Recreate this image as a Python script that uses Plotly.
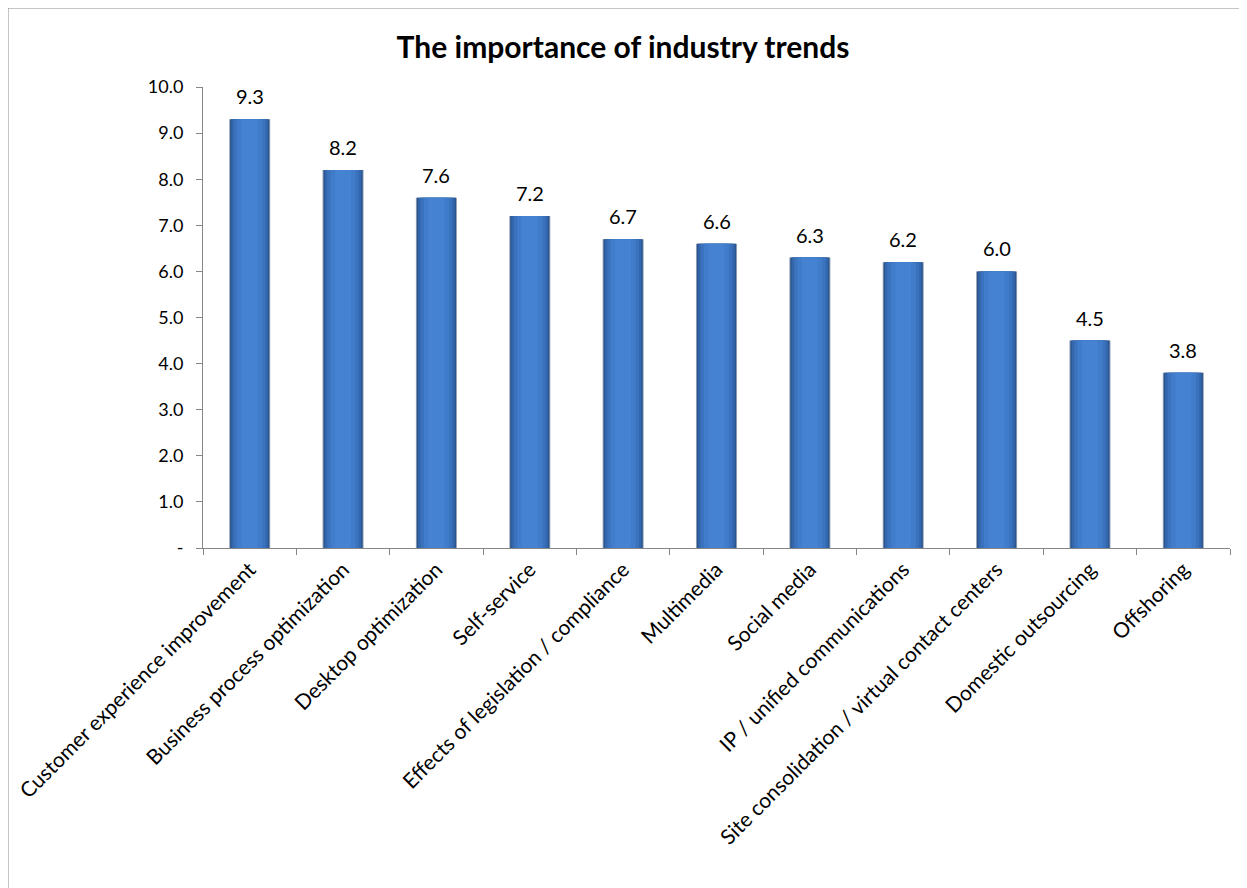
import plotly.graph_objects as go

categories = [
    "Customer experience improvement",
    "Business process optimization",
    "Desktop optimization",
    "Self-service",
    "Effects of legislation / compliance",
    "Multimedia",
    "Social media",
    "IP / unified communications",
    "Site consolidation / virtual contact centers",
    "Domestic outsourcing",
    "Offshoring",
]
values = [9.3, 8.2, 7.6, 7.2, 6.7, 6.6, 6.3, 6.2, 6.0, 4.5, 3.8]
value_labels = ["9.3", "8.2", "7.6", "7.2", "6.7", "6.6", "6.3", "6.2", "6.0", "4.5", "3.8"]
y_tickvals = [0, 1, 2, 3, 4, 5, 6, 7, 8, 9, 10]
y_ticktext = ["-", "1.0", "2.0", "3.0", "4.0", "5.0", "6.0", "7.0", "8.0", "9.0", "10.0"]

FONT = "Lato, Carlito, 'Open Sans', sans-serif"

fig = go.Figure()

# layered bars to imitate a horizontal gradient
layers = [
    (0.44, "#9AA6B6"),
    (0.42, "#2A5590"),
    (0.39, "#3366AB"),
    (0.34, "#3A72BD"),
    (0.27, "#407CCA"),
    (0.17, "#4583D2"),
]
for i, (w, c) in enumerate(layers):
    fig.add_trace(go.Bar(
        x=categories, y=values, width=w,
        marker=dict(color=c, line=dict(width=0)),
        hoverinfo="skip" if i else None,
        showlegend=False,
    ))

# value labels placed at the data values
for cat, val, lab in zip(categories, values, value_labels):
    fig.add_annotation(
        x=cat, y=val, xref="x", yref="y",
        text=lab, showarrow=False,
        yanchor="bottom", yshift=9,
        font=dict(family=FONT, size=20, color="#000000"),
    )

# page has an 8px body margin: figure starts at (8, 8)
OFF = 8
W, H = 1247 - OFF, 888 - OFF
L, R, T, B = 203 - OFF, 17, 87 - OFF, 888 - 548
pw = W - L - R
ph = H - T - B

fig.update_layout(
    width=W, height=H,
    barmode="overlay",
    plot_bgcolor="white",
    paper_bgcolor="white",
    margin=dict(l=L, r=R, t=T, b=B, autoexpand=False),
    title=dict(
        text="<b>The importance of industry trends</b>",
        x=(623 - OFF - L) / pw, xanchor="center", xref="paper",
        y=1 - (47 - OFF) / H, yanchor="middle",
        font=dict(family=FONT, size=30, color="#000000"),
    ),
    xaxis=dict(
        type="category",
        tickangle=-45,
        tickson="boundaries",
        ticks="outside", ticklen=6, tickcolor="#868686",
        showline=True, linecolor="#868686", linewidth=1,
        showgrid=False,
        tickfont=dict(family=FONT, size=21, color="#000000"),
    ),
    yaxis=dict(
        range=[0, 10],
        tickvals=y_tickvals, ticktext=y_ticktext,
        ticks="outside", ticklen=6, tickcolor="#868686",
        showline=True, linecolor="#868686", linewidth=1,
        showgrid=False, zeroline=False,
        tickfont=dict(family=FONT, size=18, color="#000000"),
        ticklabelstandoff=9,
    ),
    shapes=[dict(
        type="rect", xref="paper", yref="paper",
        x0=(7 - OFF - L + 0.5) / pw, x1=(W + 20 - L) / pw,
        y0=-(H + 20 - T - ph) / ph, y1=1 + (T - (6.5 - OFF) - 1) / ph,
        line=dict(color="#8C8C8C", width=2), fillcolor="rgba(0,0,0,0)",
        layer="below",
    )],
)

fig.write_html("out.html")
